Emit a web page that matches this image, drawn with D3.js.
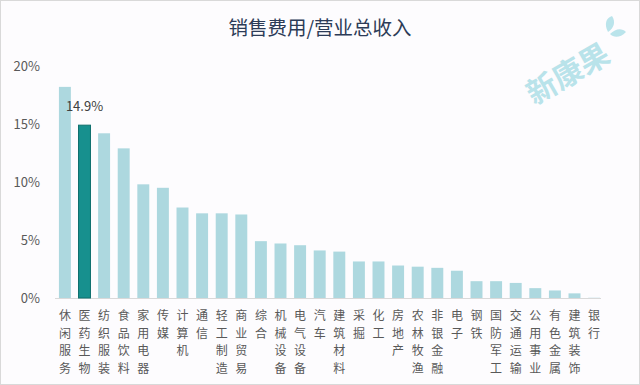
<!DOCTYPE html>
<html>
<head>
<meta charset="utf-8">
<script src="https://cdn.jsdelivr.net/npm/d3@7"></script>
<style>
  body { margin: 0; background: #fff; }
  text { font-family: "Noto Sans CJK SC", "Noto Sans", sans-serif; }
</style>
</head>
<body>
<svg width="640" height="385"></svg>
<script>
var svg = d3.select("svg"),
    width = +svg.attr("width"),
    height = +svg.attr("height");

var categories = ["休闲服务", "医药生物", "纺织服装", "食品饮料", "家用电器", "传媒", "计算机", "通信",
  "轻工制造", "商业贸易", "综合", "机械设备", "电气设备", "汽车", "建筑材料", "采掘", "化工", "房地产",
  "农林牧渔", "非银金融", "电子", "钢铁", "国防军工", "交通运输", "公用事业", "有色金属", "建筑装饰", "银行"];

var values = [18.2, 14.9, 14.2, 12.9, 9.8, 9.5, 7.8, 7.3, 7.3, 7.2, 4.9, 4.7, 4.55, 4.1, 4.0, 3.15,
  3.15, 2.8, 2.7, 2.6, 2.35, 1.45, 1.45, 1.3, 0.85, 0.65, 0.4, 0.02];

var yTicks = [0, 5, 10, 15, 20];
var highlight = "医药生物";

var x = d3.scaleBand()
  .domain(categories)
  .range([55, 604])
  .paddingInner(0.39)
  .paddingOuter(0.2);

var y = d3.scaleLinear()
  .domain([0, 20])
  .range([298, 66]);

// frame
svg.append("rect")
  .attr("x", 0.5).attr("y", 0.5)
  .attr("width", width - 1).attr("height", height - 1)
  .attr("fill", "#fdfcfe")
  .attr("stroke", "#d9d9d9");

// watermark
var wm = svg.append("g")
  .attr("transform", "translate(568,74) rotate(-30)");
wm.append("text")
  .attr("text-anchor", "middle")
  .attr("dy", "0.35em")
  .attr("fill", "#a9dde6")
  .attr("font-size", 30)
  .attr("font-weight", "bold")
  .attr("opacity", 0.8)
  .text("新康果");
svg.append("path")
  .attr("d", "M608,32 C604,24 606,18 612,16 C616,22 614,28 608,32 Z M610,34 C616,28 622,28 626,32 C620,38 614,38 610,34 Z")
  .attr("fill", "#a9dde6")
  .attr("opacity", 0.8);

svg.append("text")
  .attr("x", 320)
  .attr("y", 35)
  .attr("text-anchor", "middle")
  .attr("fill", "#2c3b57")
  .attr("font-size", 19.5)
  .text("销售费用/营业总收入");

// y axis labels
svg.append("g")
  .selectAll("text")
  .data(yTicks)
  .enter().append("text")
  .attr("x", 40)
  .attr("y", function(d) { return y(d); })
  .attr("dy", "0.35em")
  .attr("text-anchor", "end")
  .attr("fill", "#595959")
  .attr("font-size", 13)
  .text(function(d) { return d + "%"; });

svg.append("line")
  .attr("x1", 55).attr("x2", 601)
  .attr("y1", y(0) + 0.5).attr("y2", y(0) + 0.5)
  .attr("stroke", "#d9d9d9");

svg.append("g")
  .selectAll("rect")
  .data(categories)
  .enter().append("rect")
  .attr("x", function(d) { return x(d); })
  .attr("y", function(d, i) { return y(values[i]); })
  .attr("width", x.bandwidth())
  .attr("height", function(d, i) { return y(0) - y(values[i]); })
  .attr("fill", function(d) { return d === highlight ? "#17908e" : "#add8df"; })
  .attr("stroke", function(d) { return d === highlight ? "#0f6f6d" : "none"; });

var hi = categories.indexOf(highlight);
svg.append("text")
  .attr("x", x(highlight) + x.bandwidth() / 2)
  .attr("y", y(values[hi]) - 14)
  .attr("text-anchor", "middle")
  .attr("fill", "#404040")
  .attr("font-size", 13)
  .text(values[hi].toFixed(1) + "%");

// vertical category labels, one text per character
var labels = svg.append("g")
  .selectAll("g")
  .data(categories)
  .enter().append("g")
  .attr("transform", function(d) {
    return "translate(" + (x(d) + x.bandwidth() / 2) + ",0)";
  });

labels.selectAll("text")
  .data(function(d) { return d.split(""); })
  .enter().append("text")
  .attr("x", 0)
  .attr("y", function(ch, i) { return 320 + i * 17.5; })
  .attr("text-anchor", "middle")
  .attr("fill", "#595959")
  .attr("font-size", 12)
  .text(function(ch) { return ch; });
</script>
</body>
</html>
